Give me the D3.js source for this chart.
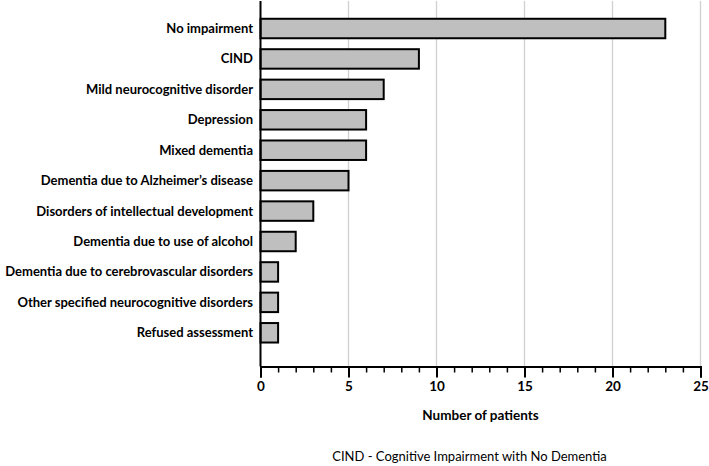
<!DOCTYPE html>
<html><head><meta charset="utf-8">
<script src="https://cdn.jsdelivr.net/npm/d3@7"></script>
<style>body{margin:0;background:#fff}svg{display:block}</style>
</head><body>
<svg id="chart" width="709" height="466"></svg>
<script>
const categories = ["No impairment","CIND","Mild neurocognitive disorder","Depression","Mixed dementia","Dementia due to Alzheimer\u2019s disease","Disorders of intellectual development","Dementia due to use of alcohol","Dementia due to cerebrovascular disorders","Other specified neurocognitive disorders","Refused assessment"];
const values = [23,9,7,6,6,5,3,2,1,1,1];
const xTicks = [0,5,10,15,20,25];
const xTitle = "Number of patients";
const footnote = "CIND - Cognitive Impairment with No Dementia";

const svg = d3.select("#chart");
const plotLeft = 260.5, plotRight = 700.5, plotTop = 1, axisY = 366.5;
const x = d3.scaleLinear().domain([0,25]).range([plotLeft,plotRight]);
const y = d3.scaleBand().domain(categories).range([13.3,348]).paddingInner(0.36).paddingOuter(0.18);
const font = "Lato, 'Open Sans', sans-serif";

// gridlines
svg.append("g").selectAll("line").data(xTicks.filter(d=>d>0)).join("line")
  .attr("x1",d=>x(d)).attr("x2",d=>x(d)).attr("y1",plotTop).attr("y2",axisY)
  .attr("stroke","#d0d0d0").attr("stroke-width",1.3);

// bars
svg.append("g").selectAll("rect").data(categories).join("rect")
  .attr("x",x(0)).attr("y",d=>y(d)).attr("width",(d,i)=>x(values[i])-x(0)).attr("height",y.bandwidth())
  .attr("fill","#bfbfbf").attr("stroke","#000").attr("stroke-width",2);

// category labels
svg.append("g").selectAll("text").data(categories).join("text")
  .attr("x",253).attr("y",d=>y(d)+y.bandwidth()/2).attr("dy","0.35em")
  .attr("text-anchor","end").attr("font-family",font).attr("font-weight","bold")
  .attr("font-size",13).attr("fill","#000").text(d=>d);

// y axis line
svg.append("line").attr("x1",plotLeft).attr("x2",plotLeft).attr("y1",plotTop).attr("y2",axisY)
  .attr("stroke","#000").attr("stroke-width",2);

// x axis
const minorTicks = d3.range(0,26,1);
const ax = svg.append("g").attr("transform",`translate(0,${axisY})`);
ax.call(d3.axisBottom(x).tickValues(minorTicks).tickSize(6).tickFormat(""))
  .call(g=>g.select(".domain").remove())
  .call(g=>g.selectAll("line").attr("stroke","#000").attr("stroke-width",1.5));
const ax2 = svg.append("g").attr("transform",`translate(0,${axisY})`);
ax2.call(d3.axisBottom(x).tickValues(xTicks).tickSize(11).tickPadding(4).tickFormat(d3.format("d")))
  .call(g=>g.select(".domain").attr("stroke","#000").attr("stroke-width",2))
  .call(g=>g.selectAll("line").attr("stroke","#000").attr("stroke-width",2))
  .call(g=>g.selectAll("text").attr("font-family",font).attr("font-weight","bold").attr("font-size",13.5).attr("fill","#000"));

svg.append("text").attr("x",(plotLeft+plotRight)/2).attr("y",415).attr("dy","0.35em").attr("text-anchor","middle")
  .attr("font-family",font).attr("font-weight","bold").attr("font-size",13.5).text(xTitle);
svg.append("text").attr("x",469.5).attr("y",456.5).attr("dy","0.35em").attr("text-anchor","middle")
  .attr("font-family",font).attr("font-size",13).text(footnote);
</script>
</body></html>
